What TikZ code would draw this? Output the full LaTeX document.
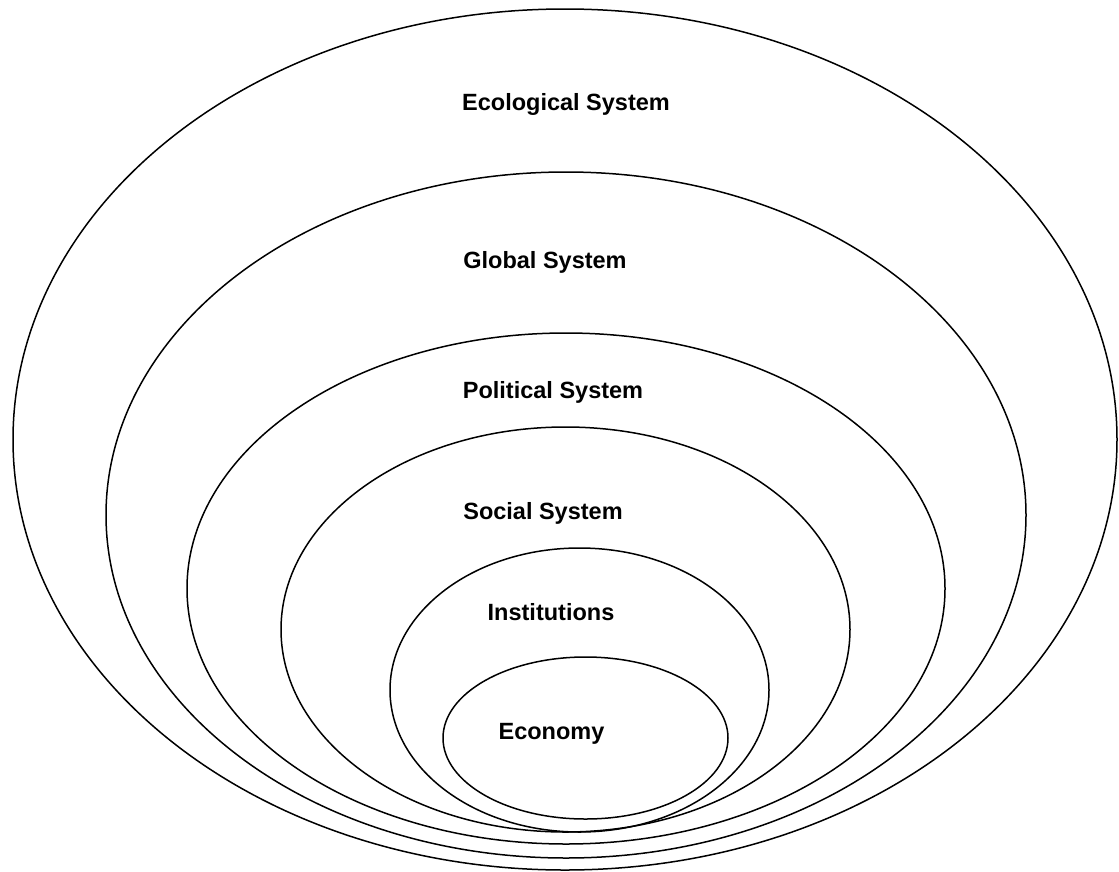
\documentclass[tikz,border=0pt]{standalone}
\usepackage{fontspec}
\setmainfont{Liberation Sans}
\begin{document}
\begin{tikzpicture}[x=1pt,y=-1pt,
  ring/.style={draw=black,line width=1.5pt},
  tag/.style={font=\fontsize{23.5}{26}\selectfont\bfseries,inner sep=0pt,anchor=center}]
\useasboundingbox (0,0) rectangle (1119,871);
% nested systems, widest first
\draw[ring] (565,439.5) ellipse [x radius=552,y radius=430.5];
\draw[ring] (566,515) ellipse [x radius=460,y radius=343];
\draw[ring] (566,588.5) ellipse [x radius=379,y radius=255.5];
\draw[ring] (565.5,629.5) ellipse [x radius=284.5,y radius=202.5];
\draw[ring] (579.5,690) ellipse [x radius=189.5,y radius=142];
\draw[ring] (585.5,738) ellipse [x radius=142.5,y radius=81];
% labels
\node[tag] (eco) at (566,104) {Ecological System};
\node[tag] (glob) at (545,262) {Global System};
\node[tag] (pol) at (553,392) {Political System};
\node[tag] (soc) at (543,513) {Social System};
\node[tag] (inst) at (551,612) {Institutions};
\node[tag] (econ) at (551.5,734) {Economy};
\end{tikzpicture}
\end{document}
